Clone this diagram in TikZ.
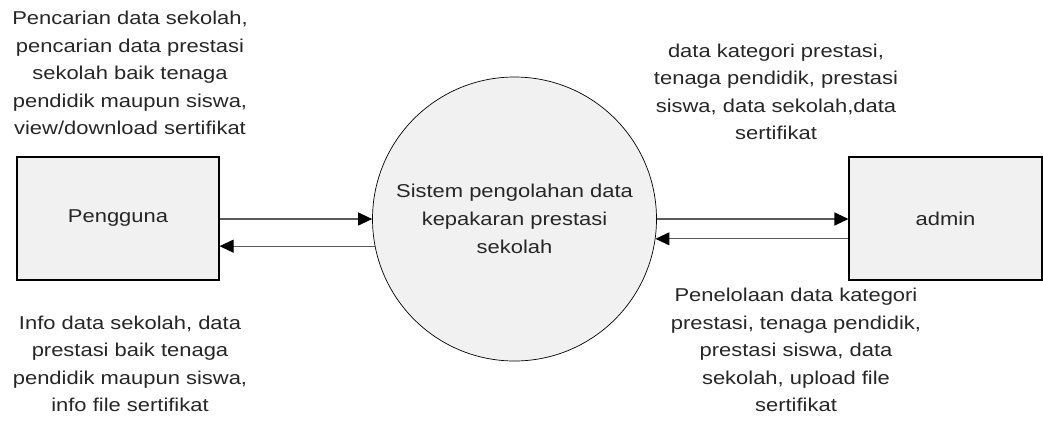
\documentclass[tikz,border=0pt]{standalone}
\usepackage{fontspec}
\newfontfamily\lab[FakeStretch=1.18]{Liberation Sans}
\usetikzlibrary{arrows.meta}
\definecolor{boxfill}{HTML}{F1F1F1}
\definecolor{txt}{HTML}{262626}
\definecolor{arr}{HTML}{5A5A5A}
\tikzset{
  entity/.style={draw=black, line width=1.1pt, fill=boxfill, minimum width=#1, minimum height=123pt, inner sep=0pt, font=\lab\fontsize{18.6}{27.5}\selectfont, text=txt},
  process/.style={circle, draw=black, line width=0.7pt, fill=boxfill, minimum size=284pt, inner sep=0pt, align=center, font=\lab\fontsize{18.6}{28}\selectfont, text=txt},
  lbl/.style={align=center, inner sep=0pt, font=\lab\fontsize{18.6}{27.5}\selectfont, text=txt},
  flow/.style={draw=arr, line width=1.1pt, -{Triangle[length=14pt, width=13pt, fill=black, color=black]}}
}
\begin{document}
\begin{tikzpicture}[x=1pt, y=-1pt]
\useasboundingbox (0,0) rectangle (1043,421);
\node[entity=202pt] (peng) at (118,218.5) {Pengguna};
\node[process] (circ) at (514.5,219) {Sistem pengolahan data\\kepakaran prestasi\\sekolah};
\node[entity=193pt] (admin) at (945.5,218.5) {admin};

\draw[flow] (peng.east |- circ.west) -- (circ.west);
\draw[flow] (circ.191.8) -- (circ.191.8 -| peng.east);
\draw[flow] (circ.east) -- (circ.east -| admin.west);
\draw[flow] (circ.-8.1 -| admin.west) -- (circ.-8.1);

\node[lbl] (t1) at (130,73) {Pencarian data sekolah,\\pencarian data prestasi\\sekolah baik tenaga\\pendidik maupun siswa,\\view/download sertifikat};
\node[lbl] (t2) at (130,364) {Info data sekolah, data\\prestasi baik tenaga\\pendidik maupun siswa,\\info file sertifikat};
\node[lbl] (t3) at (776,92) {data kategori prestasi,\\tenaga pendidik, prestasi\\siswa, data sekolah,data\\sertifikat};
\node[lbl] (t4) at (796,350) {Penelolaan data kategori\\prestasi, tenaga pendidik,\\prestasi siswa, data\\sekolah, upload file\\sertifikat};
\end{tikzpicture}
\end{document}
